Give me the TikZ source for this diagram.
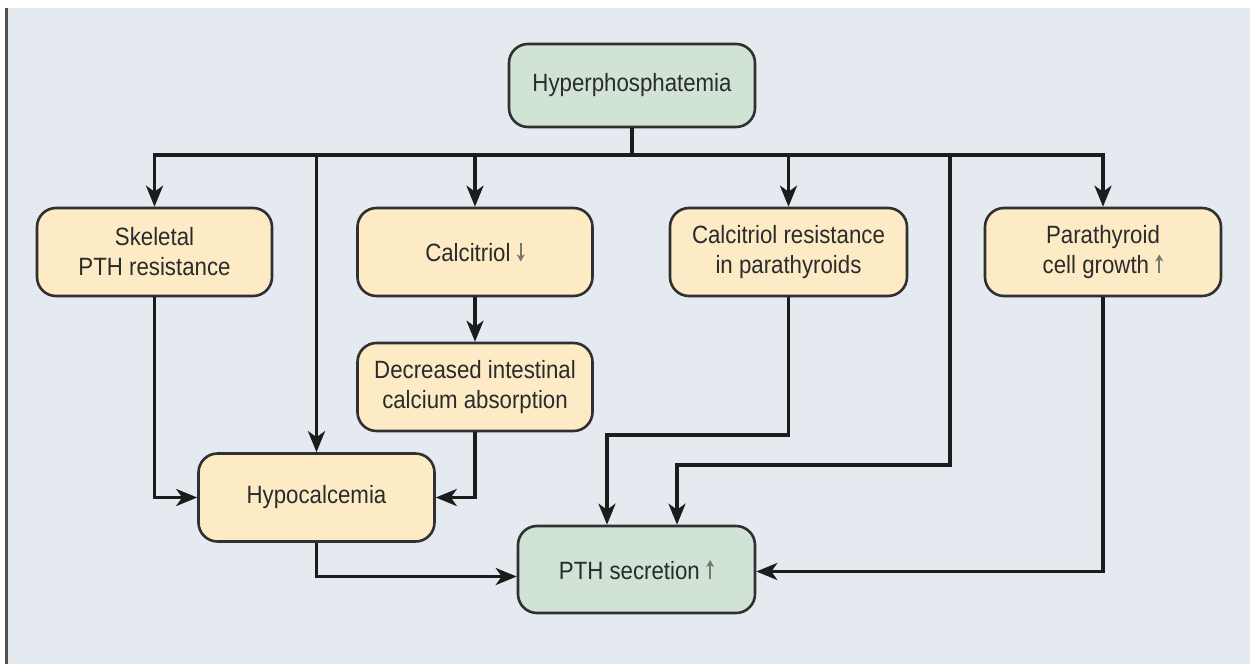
\documentclass[tikz,border=0pt]{standalone}
\usepackage{fontspec}
\setmainfont{Liberation Sans}[FakeStretch=0.89]
\usetikzlibrary{arrows.meta}
\definecolor{panel}{HTML}{E5E9F0}
\definecolor{edge}{HTML}{303030}
\definecolor{wire}{HTML}{1C1C1C}
\definecolor{cream}{HTML}{FDEBC6}
\definecolor{sage}{HTML}{D0E3D4}
\definecolor{ink}{HTML}{2B2B2B}
\definecolor{trend}{HTML}{77776F}
\definecolor{frame}{HTML}{505050}
\tikzset{
  box/.style={draw=edge, line width=2.6pt, rounded corners=19pt,
    minimum width=235pt, minimum height=88pt, align=center,
    text=ink, font=\fontsize{25}{30}\selectfont, inner sep=0pt},
  yellowbox/.style={box, fill=cream},
  greenbox/.style={box, fill=sage},
  link/.style={draw=wire, line width=3.4pt},
  arr/.style={link, -{Stealth[length=21pt,width=17pt,inset=6pt]}},
  trendline/.style={draw=trend, line width=1.7pt,
    -{Stealth[length=7pt,width=8pt,inset=2pt]}},
}
% thin trend arrows set inline with the text
\newcommand{\trendup}{\tikz[baseline=0pt]\draw[trendline] (0pt,0pt) -- (0pt,19pt);}
\newcommand{\trenddown}{\tikz[baseline=0pt]\draw[trendline] (0pt,19pt) -- (0pt,0pt);}
\begin{document}
\begin{tikzpicture}[x=1pt,y=-1pt]
  % page and panel
  \useasboundingbox (0,0) rectangle (1250,664);
  \fill[white] (0,0) rectangle (1250,664);
  \fill[panel] (8,8) rectangle (1250,664);
  \fill[frame] (5.3,8) rectangle (8.2,664);

  % nodes
  \node[greenbox, minimum width=246pt, minimum height=83pt] (hyper) at (632,85.5) {Hyperphosphatemia};
  \node[yellowbox] (skel) at (154.5,252) {Skeletal\\PTH resistance};
  \node[yellowbox] (calc) at (475,252) {Calcitriol \trenddown};
  \node[yellowbox, minimum width=237pt] (cres) at (788.5,252) {Calcitriol resistance\\in parathyroids};
  \node[yellowbox, minimum width=236pt] (para) at (1103,252) {Parathyroid\\cell growth \trendup};
  \node[yellowbox] (decr) at (475,387) {Decreased intestinal\\calcium absorption};
  \node[yellowbox, minimum width=236pt] (hypo) at (316.5,497.5) {Hypocalcemia};
  \node[greenbox, minimum width=237pt, minimum height=87pt] (pth) at (636.5,569.5) {PTH secretion \trendup};

  % distribution bus below the top node
  \coordinate (bus) at (0,155);
  \coordinate (drop) at (950,155);
  \coordinate (k1) at (607,435);
  \coordinate (k2) at (677,465);
  \draw[link] (hyper.south) -- (hyper.south |- bus);
  \draw[link, line cap=rect] (skel.north |- bus) -- (para.north |- bus);

  % branches from the bus
  \draw[arr] (skel.north |- bus) -- (skel.north);
  \draw[arr] (hypo.north |- bus) -- (hypo.north);
  \draw[arr] (calc.north |- bus) -- (calc.north);
  \draw[arr] (cres.north |- bus) -- (cres.north);
  \draw[arr] (para.north |- bus) -- (para.north);
  \draw[arr] (drop) -- (drop |- k2) -- (k2) -- (k2 |- pth.north);

  % second level
  \draw[arr] (calc.south) -- (decr.north);
  \draw[arr] (skel.south) |- (hypo.west);
  \draw[arr] (decr.south) |- (hypo.east);
  \draw[arr] (cres.south) |- (k1) -- (k1 |- pth.north);
  \draw[arr] (hypo.south) |- ([yshift=-7pt]pth.west);
  \draw[arr] (para.south) |- ([yshift=-2pt]pth.east);
\end{tikzpicture}
\end{document}
